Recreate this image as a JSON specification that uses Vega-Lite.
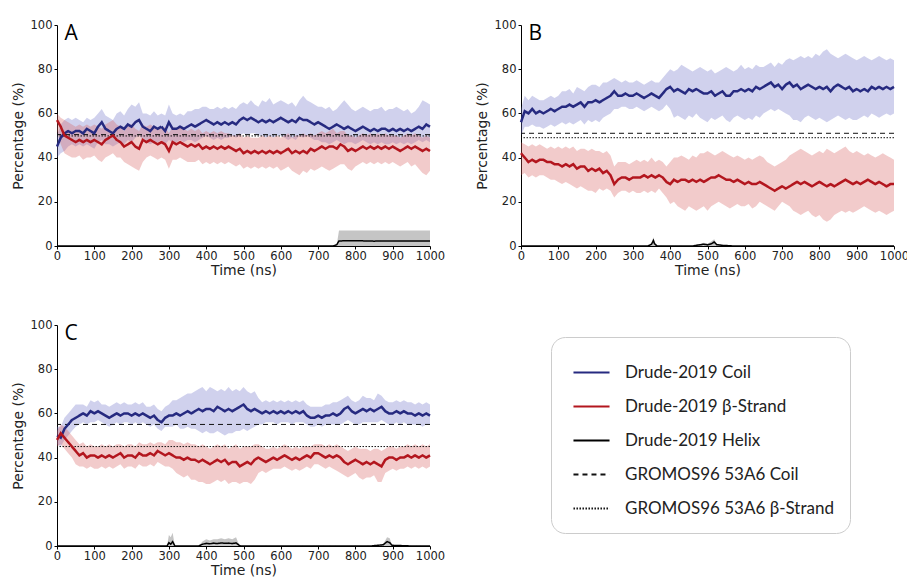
{
"$schema":"https://vega.github.io/schema/vega-lite/v6.json",
"padding":{"left":11,"top":19,"right":0,"bottom":0},
"background":"white",
"datasets":{
"md":[
{"p":"A","t":0,"c":45,"cl":40,"ch":50,"s":57,"sl":52,"sh":60},
{"p":"A","t":10,"c":49,"cl":42,"ch":55,"s":54,"sl":46,"sh":58},
{"p":"A","t":20,"c":51,"cl":43,"ch":57,"s":50,"sl":42,"sh":57},
{"p":"A","t":30,"c":52,"cl":45,"ch":58,"s":49,"sl":41,"sh":56},
{"p":"A","t":40,"c":51,"cl":46,"ch":57,"s":48,"sl":40,"sh":55},
{"p":"A","t":50,"c":52,"cl":45,"ch":58,"s":47,"sl":40,"sh":54},
{"p":"A","t":60,"c":52,"cl":46,"ch":57,"s":48,"sl":41,"sh":55},
{"p":"A","t":70,"c":51,"cl":45,"ch":56,"s":47,"sl":39,"sh":54},
{"p":"A","t":80,"c":53,"cl":46,"ch":58,"s":48,"sl":40,"sh":55},
{"p":"A","t":90,"c":52,"cl":45,"ch":57,"s":47,"sl":40,"sh":54},
{"p":"A","t":100,"c":51,"cl":44,"ch":58,"s":48,"sl":41,"sh":55},
{"p":"A","t":110,"c":54,"cl":47,"ch":60,"s":47,"sl":39,"sh":54},
{"p":"A","t":120,"c":56,"cl":48,"ch":62,"s":46,"sl":38,"sh":53},
{"p":"A","t":130,"c":53,"cl":46,"ch":59,"s":48,"sl":40,"sh":55},
{"p":"A","t":140,"c":52,"cl":46,"ch":58,"s":49,"sl":41,"sh":56},
{"p":"A","t":150,"c":51,"cl":45,"ch":57,"s":50,"sl":42,"sh":57},
{"p":"A","t":160,"c":53,"cl":46,"ch":60,"s":48,"sl":40,"sh":55},
{"p":"A","t":170,"c":54,"cl":47,"ch":61,"s":47,"sl":40,"sh":54},
{"p":"A","t":180,"c":53,"cl":46,"ch":59,"s":45,"sl":38,"sh":52},
{"p":"A","t":190,"c":55,"cl":48,"ch":62,"s":46,"sl":37,"sh":54},
{"p":"A","t":200,"c":54,"cl":47,"ch":64,"s":47,"sl":36,"sh":55},
{"p":"A","t":210,"c":56,"cl":49,"ch":63,"s":45,"sl":35,"sh":53},
{"p":"A","t":220,"c":57,"cl":50,"ch":65,"s":44,"sl":34,"sh":52},
{"p":"A","t":230,"c":54,"cl":48,"ch":60,"s":48,"sl":38,"sh":55},
{"p":"A","t":240,"c":53,"cl":47,"ch":60,"s":47,"sl":40,"sh":54},
{"p":"A","t":250,"c":52,"cl":46,"ch":59,"s":48,"sl":41,"sh":55},
{"p":"A","t":260,"c":54,"cl":47,"ch":61,"s":47,"sl":40,"sh":54},
{"p":"A","t":270,"c":53,"cl":47,"ch":59,"s":46,"sl":39,"sh":53},
{"p":"A","t":280,"c":54,"cl":48,"ch":60,"s":47,"sl":40,"sh":53},
{"p":"A","t":290,"c":52,"cl":46,"ch":59,"s":46,"sl":39,"sh":54},
{"p":"A","t":300,"c":56,"cl":48,"ch":64,"s":43,"sl":35,"sh":51},
{"p":"A","t":310,"c":53,"cl":47,"ch":60,"s":47,"sl":39,"sh":54},
{"p":"A","t":320,"c":53,"cl":47,"ch":59,"s":46,"sl":39,"sh":53},
{"p":"A","t":330,"c":54,"cl":48,"ch":60,"s":47,"sl":40,"sh":54},
{"p":"A","t":340,"c":53,"cl":47,"ch":59,"s":46,"sl":39,"sh":53},
{"p":"A","t":350,"c":54,"cl":48,"ch":61,"s":45,"sl":38,"sh":52},
{"p":"A","t":360,"c":55,"cl":48,"ch":61,"s":46,"sl":38,"sh":53},
{"p":"A","t":370,"c":54,"cl":47,"ch":62,"s":45,"sl":38,"sh":52},
{"p":"A","t":380,"c":55,"cl":48,"ch":62,"s":46,"sl":39,"sh":53},
{"p":"A","t":390,"c":56,"cl":49,"ch":63,"s":44,"sl":37,"sh":51},
{"p":"A","t":400,"c":57,"cl":50,"ch":63,"s":45,"sl":38,"sh":52},
{"p":"A","t":410,"c":56,"cl":49,"ch":62,"s":44,"sl":37,"sh":51},
{"p":"A","t":420,"c":55,"cl":48,"ch":62,"s":45,"sl":38,"sh":52},
{"p":"A","t":430,"c":56,"cl":49,"ch":63,"s":44,"sl":37,"sh":51},
{"p":"A","t":440,"c":55,"cl":48,"ch":62,"s":45,"sl":38,"sh":52},
{"p":"A","t":450,"c":56,"cl":49,"ch":63,"s":44,"sl":37,"sh":51},
{"p":"A","t":460,"c":55,"cl":49,"ch":62,"s":45,"sl":38,"sh":51},
{"p":"A","t":470,"c":56,"cl":50,"ch":63,"s":44,"sl":37,"sh":50},
{"p":"A","t":480,"c":55,"cl":49,"ch":62,"s":43,"sl":36,"sh":50},
{"p":"A","t":490,"c":57,"cl":50,"ch":64,"s":44,"sl":37,"sh":51},
{"p":"A","t":500,"c":58,"cl":51,"ch":65,"s":42,"sl":35,"sh":49},
{"p":"A","t":510,"c":57,"cl":50,"ch":64,"s":43,"sl":36,"sh":50},
{"p":"A","t":520,"c":58,"cl":51,"ch":66,"s":42,"sl":35,"sh":49},
{"p":"A","t":530,"c":57,"cl":51,"ch":64,"s":43,"sl":36,"sh":49},
{"p":"A","t":540,"c":56,"cl":50,"ch":63,"s":42,"sl":35,"sh":49},
{"p":"A","t":550,"c":57,"cl":50,"ch":66,"s":43,"sl":36,"sh":50},
{"p":"A","t":560,"c":56,"cl":49,"ch":65,"s":42,"sl":35,"sh":49},
{"p":"A","t":570,"c":57,"cl":50,"ch":67,"s":43,"sl":36,"sh":50},
{"p":"A","t":580,"c":56,"cl":49,"ch":64,"s":42,"sl":35,"sh":49},
{"p":"A","t":590,"c":57,"cl":50,"ch":65,"s":43,"sl":36,"sh":50},
{"p":"A","t":600,"c":58,"cl":50,"ch":66,"s":42,"sl":34,"sh":49},
{"p":"A","t":610,"c":57,"cl":49,"ch":65,"s":43,"sl":35,"sh":50},
{"p":"A","t":620,"c":56,"cl":48,"ch":64,"s":44,"sl":36,"sh":51},
{"p":"A","t":630,"c":57,"cl":49,"ch":65,"s":42,"sl":34,"sh":49},
{"p":"A","t":640,"c":56,"cl":48,"ch":63,"s":43,"sl":33,"sh":50},
{"p":"A","t":650,"c":58,"cl":50,"ch":66,"s":42,"sl":32,"sh":50},
{"p":"A","t":660,"c":57,"cl":49,"ch":68,"s":43,"sl":34,"sh":51},
{"p":"A","t":670,"c":57,"cl":50,"ch":66,"s":42,"sl":33,"sh":50},
{"p":"A","t":680,"c":56,"cl":49,"ch":65,"s":44,"sl":35,"sh":51},
{"p":"A","t":690,"c":55,"cl":48,"ch":64,"s":43,"sl":34,"sh":50},
{"p":"A","t":700,"c":56,"cl":48,"ch":63,"s":44,"sl":35,"sh":51},
{"p":"A","t":710,"c":55,"cl":47,"ch":63,"s":45,"sl":36,"sh":52},
{"p":"A","t":720,"c":54,"cl":47,"ch":62,"s":44,"sl":35,"sh":51},
{"p":"A","t":730,"c":53,"cl":46,"ch":63,"s":45,"sl":34,"sh":52},
{"p":"A","t":740,"c":54,"cl":47,"ch":61,"s":45,"sl":35,"sh":53},
{"p":"A","t":750,"c":55,"cl":48,"ch":62,"s":44,"sl":36,"sh":51},
{"p":"A","t":760,"c":54,"cl":47,"ch":64,"s":46,"sl":37,"sh":52},
{"p":"A","t":770,"c":53,"cl":46,"ch":66,"s":45,"sl":37,"sh":52},
{"p":"A","t":780,"c":54,"cl":47,"ch":64,"s":43,"sl":35,"sh":50},
{"p":"A","t":790,"c":53,"cl":47,"ch":62,"s":44,"sl":34,"sh":50},
{"p":"A","t":800,"c":52,"cl":46,"ch":61,"s":43,"sl":36,"sh":49},
{"p":"A","t":810,"c":53,"cl":47,"ch":62,"s":44,"sl":37,"sh":50},
{"p":"A","t":820,"c":54,"cl":48,"ch":63,"s":45,"sl":38,"sh":51},
{"p":"A","t":830,"c":53,"cl":47,"ch":62,"s":44,"sl":37,"sh":50},
{"p":"A","t":840,"c":52,"cl":46,"ch":61,"s":45,"sl":38,"sh":51},
{"p":"A","t":850,"c":53,"cl":47,"ch":62,"s":44,"sl":37,"sh":50},
{"p":"A","t":860,"c":52,"cl":46,"ch":62,"s":45,"sl":38,"sh":51},
{"p":"A","t":870,"c":53,"cl":47,"ch":63,"s":44,"sl":37,"sh":50},
{"p":"A","t":880,"c":53,"cl":46,"ch":61,"s":45,"sl":38,"sh":51},
{"p":"A","t":890,"c":52,"cl":46,"ch":62,"s":44,"sl":37,"sh":50},
{"p":"A","t":900,"c":53,"cl":47,"ch":62,"s":45,"sl":38,"sh":50},
{"p":"A","t":910,"c":52,"cl":46,"ch":63,"s":44,"sl":37,"sh":50},
{"p":"A","t":920,"c":53,"cl":47,"ch":62,"s":43,"sl":36,"sh":49},
{"p":"A","t":930,"c":52,"cl":46,"ch":61,"s":44,"sl":37,"sh":50},
{"p":"A","t":940,"c":53,"cl":47,"ch":62,"s":45,"sl":38,"sh":51},
{"p":"A","t":950,"c":52,"cl":46,"ch":60,"s":44,"sl":36,"sh":50},
{"p":"A","t":960,"c":53,"cl":47,"ch":61,"s":45,"sl":37,"sh":51},
{"p":"A","t":970,"c":54,"cl":48,"ch":63,"s":44,"sl":35,"sh":50},
{"p":"A","t":980,"c":53,"cl":47,"ch":66,"s":43,"sl":33,"sh":49},
{"p":"A","t":990,"c":55,"cl":48,"ch":65,"s":44,"sl":32,"sh":50},
{"p":"A","t":1000,"c":54,"cl":47,"ch":64,"s":43,"sl":34,"sh":49},
{"p":"B","t":0,"c":56,"cl":50,"ch":62,"s":42,"sl":32,"sh":47},
{"p":"B","t":10,"c":61,"cl":54,"ch":68,"s":40,"sl":33,"sh":46},
{"p":"B","t":20,"c":60,"cl":54,"ch":66,"s":38,"sl":31,"sh":45},
{"p":"B","t":30,"c":62,"cl":55,"ch":68,"s":39,"sl":32,"sh":46},
{"p":"B","t":40,"c":60,"cl":54,"ch":67,"s":38,"sl":31,"sh":45},
{"p":"B","t":50,"c":61,"cl":54,"ch":66,"s":39,"sl":32,"sh":46},
{"p":"B","t":60,"c":60,"cl":53,"ch":66,"s":39,"sl":32,"sh":45},
{"p":"B","t":70,"c":61,"cl":54,"ch":67,"s":38,"sl":31,"sh":44},
{"p":"B","t":80,"c":62,"cl":55,"ch":68,"s":38,"sl":30,"sh":45},
{"p":"B","t":90,"c":61,"cl":54,"ch":67,"s":37,"sl":30,"sh":44},
{"p":"B","t":100,"c":62,"cl":55,"ch":68,"s":37,"sl":29,"sh":45},
{"p":"B","t":110,"c":63,"cl":56,"ch":70,"s":36,"sl":28,"sh":44},
{"p":"B","t":120,"c":63,"cl":55,"ch":70,"s":37,"sl":29,"sh":45},
{"p":"B","t":130,"c":64,"cl":56,"ch":71,"s":36,"sl":28,"sh":44},
{"p":"B","t":140,"c":63,"cl":55,"ch":69,"s":37,"sl":27,"sh":45},
{"p":"B","t":150,"c":64,"cl":56,"ch":72,"s":35,"sl":26,"sh":43},
{"p":"B","t":160,"c":65,"cl":57,"ch":71,"s":36,"sl":27,"sh":44},
{"p":"B","t":170,"c":63,"cl":55,"ch":70,"s":36,"sl":26,"sh":44},
{"p":"B","t":180,"c":65,"cl":57,"ch":72,"s":34,"sl":25,"sh":43},
{"p":"B","t":190,"c":65,"cl":56,"ch":73,"s":35,"sl":25,"sh":44},
{"p":"B","t":200,"c":66,"cl":57,"ch":73,"s":34,"sl":24,"sh":43},
{"p":"B","t":210,"c":65,"cl":56,"ch":72,"s":35,"sl":26,"sh":43},
{"p":"B","t":220,"c":66,"cl":58,"ch":74,"s":33,"sl":25,"sh":42},
{"p":"B","t":230,"c":67,"cl":59,"ch":74,"s":34,"sl":26,"sh":43},
{"p":"B","t":240,"c":68,"cl":60,"ch":75,"s":32,"sl":25,"sh":41},
{"p":"B","t":250,"c":70,"cl":62,"ch":76,"s":28,"sl":22,"sh":36},
{"p":"B","t":260,"c":68,"cl":62,"ch":75,"s":30,"sl":24,"sh":38},
{"p":"B","t":270,"c":68,"cl":63,"ch":74,"s":31,"sl":25,"sh":38},
{"p":"B","t":280,"c":69,"cl":63,"ch":75,"s":31,"sl":25,"sh":38},
{"p":"B","t":290,"c":68,"cl":62,"ch":74,"s":30,"sl":24,"sh":37},
{"p":"B","t":300,"c":68,"cl":62,"ch":74,"s":31,"sl":25,"sh":38},
{"p":"B","t":310,"c":69,"cl":63,"ch":75,"s":31,"sl":24,"sh":39},
{"p":"B","t":320,"c":68,"cl":62,"ch":74,"s":31,"sl":24,"sh":38},
{"p":"B","t":330,"c":67,"cl":61,"ch":73,"s":32,"sl":25,"sh":39},
{"p":"B","t":340,"c":68,"cl":62,"ch":74,"s":31,"sl":24,"sh":38},
{"p":"B","t":350,"c":69,"cl":63,"ch":75,"s":32,"sl":25,"sh":40},
{"p":"B","t":360,"c":68,"cl":62,"ch":74,"s":31,"sl":24,"sh":38},
{"p":"B","t":370,"c":67,"cl":61,"ch":74,"s":32,"sl":26,"sh":39},
{"p":"B","t":380,"c":69,"cl":62,"ch":76,"s":31,"sl":24,"sh":38},
{"p":"B","t":390,"c":71,"cl":64,"ch":78,"s":29,"sl":22,"sh":36},
{"p":"B","t":400,"c":72,"cl":62,"ch":80,"s":28,"sl":19,"sh":38},
{"p":"B","t":410,"c":70,"cl":58,"ch":79,"s":30,"sl":20,"sh":40},
{"p":"B","t":420,"c":71,"cl":59,"ch":80,"s":29,"sl":18,"sh":40},
{"p":"B","t":430,"c":70,"cl":58,"ch":82,"s":30,"sl":17,"sh":41},
{"p":"B","t":440,"c":69,"cl":57,"ch":81,"s":30,"sl":16,"sh":40},
{"p":"B","t":450,"c":71,"cl":59,"ch":80,"s":29,"sl":18,"sh":39},
{"p":"B","t":460,"c":70,"cl":58,"ch":79,"s":30,"sl":17,"sh":41},
{"p":"B","t":470,"c":71,"cl":60,"ch":80,"s":29,"sl":16,"sh":40},
{"p":"B","t":480,"c":70,"cl":58,"ch":81,"s":30,"sl":17,"sh":42},
{"p":"B","t":490,"c":69,"cl":57,"ch":80,"s":29,"sl":18,"sh":42},
{"p":"B","t":500,"c":69,"cl":56,"ch":79,"s":30,"sl":16,"sh":43},
{"p":"B","t":510,"c":70,"cl":58,"ch":80,"s":31,"sl":18,"sh":42},
{"p":"B","t":520,"c":68,"cl":57,"ch":78,"s":31,"sl":19,"sh":41},
{"p":"B","t":530,"c":69,"cl":58,"ch":79,"s":32,"sl":20,"sh":42},
{"p":"B","t":540,"c":70,"cl":59,"ch":80,"s":31,"sl":19,"sh":43},
{"p":"B","t":550,"c":68,"cl":57,"ch":81,"s":30,"sl":18,"sh":42},
{"p":"B","t":560,"c":68,"cl":56,"ch":80,"s":30,"sl":17,"sh":41},
{"p":"B","t":570,"c":70,"cl":58,"ch":79,"s":29,"sl":18,"sh":40},
{"p":"B","t":580,"c":70,"cl":59,"ch":80,"s":30,"sl":19,"sh":41},
{"p":"B","t":590,"c":71,"cl":58,"ch":82,"s":29,"sl":18,"sh":40},
{"p":"B","t":600,"c":70,"cl":57,"ch":80,"s":28,"sl":18,"sh":39},
{"p":"B","t":610,"c":71,"cl":58,"ch":81,"s":29,"sl":19,"sh":40},
{"p":"B","t":620,"c":70,"cl":57,"ch":80,"s":28,"sl":17,"sh":39},
{"p":"B","t":630,"c":72,"cl":59,"ch":82,"s":28,"sl":18,"sh":40},
{"p":"B","t":640,"c":71,"cl":58,"ch":81,"s":29,"sl":20,"sh":41},
{"p":"B","t":650,"c":72,"cl":60,"ch":81,"s":28,"sl":19,"sh":40},
{"p":"B","t":660,"c":73,"cl":61,"ch":82,"s":27,"sl":18,"sh":38},
{"p":"B","t":670,"c":74,"cl":62,"ch":83,"s":26,"sl":17,"sh":37},
{"p":"B","t":680,"c":72,"cl":61,"ch":81,"s":25,"sl":16,"sh":36},
{"p":"B","t":690,"c":73,"cl":62,"ch":83,"s":26,"sl":18,"sh":37},
{"p":"B","t":700,"c":71,"cl":61,"ch":82,"s":27,"sl":20,"sh":38},
{"p":"B","t":710,"c":73,"cl":60,"ch":84,"s":26,"sl":19,"sh":39},
{"p":"B","t":720,"c":74,"cl":59,"ch":85,"s":27,"sl":18,"sh":41},
{"p":"B","t":730,"c":72,"cl":57,"ch":84,"s":28,"sl":16,"sh":42},
{"p":"B","t":740,"c":73,"cl":57,"ch":85,"s":29,"sl":15,"sh":43},
{"p":"B","t":750,"c":71,"cl":56,"ch":86,"s":28,"sl":14,"sh":44},
{"p":"B","t":760,"c":72,"cl":58,"ch":85,"s":29,"sl":15,"sh":43},
{"p":"B","t":770,"c":73,"cl":59,"ch":86,"s":28,"sl":16,"sh":42},
{"p":"B","t":780,"c":72,"cl":58,"ch":85,"s":27,"sl":14,"sh":41},
{"p":"B","t":790,"c":71,"cl":57,"ch":87,"s":28,"sl":13,"sh":42},
{"p":"B","t":800,"c":72,"cl":58,"ch":86,"s":29,"sl":14,"sh":43},
{"p":"B","t":810,"c":71,"cl":57,"ch":88,"s":28,"sl":12,"sh":42},
{"p":"B","t":820,"c":72,"cl":56,"ch":89,"s":27,"sl":11,"sh":44},
{"p":"B","t":830,"c":70,"cl":57,"ch":87,"s":28,"sl":12,"sh":43},
{"p":"B","t":840,"c":72,"cl":58,"ch":86,"s":27,"sl":14,"sh":42},
{"p":"B","t":850,"c":73,"cl":59,"ch":85,"s":28,"sl":15,"sh":43},
{"p":"B","t":860,"c":72,"cl":58,"ch":86,"s":29,"sl":16,"sh":44},
{"p":"B","t":870,"c":71,"cl":57,"ch":87,"s":30,"sl":15,"sh":45},
{"p":"B","t":880,"c":72,"cl":58,"ch":86,"s":29,"sl":16,"sh":43},
{"p":"B","t":890,"c":70,"cl":57,"ch":85,"s":28,"sl":15,"sh":42},
{"p":"B","t":900,"c":71,"cl":57,"ch":84,"s":29,"sl":16,"sh":43},
{"p":"B","t":910,"c":70,"cl":58,"ch":85,"s":28,"sl":17,"sh":42},
{"p":"B","t":920,"c":71,"cl":59,"ch":86,"s":29,"sl":18,"sh":41},
{"p":"B","t":930,"c":70,"cl":58,"ch":85,"s":30,"sl":17,"sh":42},
{"p":"B","t":940,"c":72,"cl":60,"ch":84,"s":29,"sl":16,"sh":41},
{"p":"B","t":950,"c":71,"cl":59,"ch":85,"s":28,"sl":15,"sh":40},
{"p":"B","t":960,"c":72,"cl":58,"ch":86,"s":29,"sl":16,"sh":41},
{"p":"B","t":970,"c":71,"cl":59,"ch":85,"s":28,"sl":15,"sh":42},
{"p":"B","t":980,"c":72,"cl":60,"ch":84,"s":27,"sl":14,"sh":41},
{"p":"B","t":990,"c":71,"cl":59,"ch":85,"s":28,"sl":15,"sh":40},
{"p":"B","t":1000,"c":72,"cl":60,"ch":84,"s":28,"sl":16,"sh":39},
{"p":"C","t":0,"c":50,"cl":46,"ch":54,"s":48,"sl":45,"sh":52},
{"p":"C","t":10,"c":49,"cl":45,"ch":54,"s":51,"sl":46,"sh":55},
{"p":"C","t":20,"c":53,"cl":48,"ch":58,"s":49,"sl":44,"sh":54},
{"p":"C","t":30,"c":55,"cl":50,"ch":60,"s":47,"sl":42,"sh":52},
{"p":"C","t":40,"c":57,"cl":52,"ch":62,"s":45,"sl":40,"sh":50},
{"p":"C","t":50,"c":58,"cl":54,"ch":64,"s":43,"sl":37,"sh":48},
{"p":"C","t":60,"c":59,"cl":55,"ch":64,"s":41,"sl":36,"sh":46},
{"p":"C","t":70,"c":60,"cl":56,"ch":64,"s":42,"sl":36,"sh":47},
{"p":"C","t":80,"c":59,"cl":55,"ch":63,"s":40,"sl":35,"sh":45},
{"p":"C","t":90,"c":61,"cl":56,"ch":66,"s":41,"sl":36,"sh":46},
{"p":"C","t":100,"c":60,"cl":56,"ch":65,"s":41,"sl":35,"sh":45},
{"p":"C","t":110,"c":61,"cl":57,"ch":66,"s":40,"sl":35,"sh":45},
{"p":"C","t":120,"c":60,"cl":56,"ch":64,"s":41,"sl":36,"sh":46},
{"p":"C","t":130,"c":59,"cl":55,"ch":64,"s":40,"sl":35,"sh":45},
{"p":"C","t":140,"c":58,"cl":54,"ch":63,"s":41,"sl":36,"sh":46},
{"p":"C","t":150,"c":59,"cl":55,"ch":64,"s":40,"sl":35,"sh":45},
{"p":"C","t":160,"c":60,"cl":56,"ch":65,"s":41,"sl":36,"sh":46},
{"p":"C","t":170,"c":59,"cl":55,"ch":64,"s":42,"sl":37,"sh":46},
{"p":"C","t":180,"c":60,"cl":56,"ch":65,"s":40,"sl":35,"sh":45},
{"p":"C","t":190,"c":60,"cl":56,"ch":64,"s":41,"sl":36,"sh":46},
{"p":"C","t":200,"c":59,"cl":55,"ch":64,"s":41,"sl":36,"sh":46},
{"p":"C","t":210,"c":60,"cl":56,"ch":65,"s":40,"sl":35,"sh":45},
{"p":"C","t":220,"c":59,"cl":55,"ch":64,"s":42,"sl":37,"sh":47},
{"p":"C","t":230,"c":60,"cl":56,"ch":65,"s":41,"sl":36,"sh":46},
{"p":"C","t":240,"c":59,"cl":55,"ch":63,"s":41,"sl":36,"sh":46},
{"p":"C","t":250,"c":58,"cl":54,"ch":63,"s":42,"sl":37,"sh":47},
{"p":"C","t":260,"c":59,"cl":55,"ch":64,"s":41,"sl":36,"sh":46},
{"p":"C","t":270,"c":57,"cl":53,"ch":62,"s":43,"sl":38,"sh":47},
{"p":"C","t":280,"c":56,"cl":52,"ch":61,"s":42,"sl":37,"sh":47},
{"p":"C","t":290,"c":58,"cl":54,"ch":63,"s":41,"sl":36,"sh":46},
{"p":"C","t":300,"c":59,"cl":54,"ch":64,"s":42,"sl":36,"sh":48},
{"p":"C","t":310,"c":59,"cl":54,"ch":66,"s":41,"sl":35,"sh":48},
{"p":"C","t":320,"c":60,"cl":55,"ch":66,"s":40,"sl":33,"sh":47},
{"p":"C","t":330,"c":59,"cl":53,"ch":67,"s":40,"sl":32,"sh":47},
{"p":"C","t":340,"c":60,"cl":53,"ch":68,"s":39,"sl":31,"sh":46},
{"p":"C","t":350,"c":61,"cl":54,"ch":69,"s":40,"sl":32,"sh":47},
{"p":"C","t":360,"c":60,"cl":53,"ch":69,"s":39,"sl":30,"sh":46},
{"p":"C","t":370,"c":61,"cl":53,"ch":70,"s":39,"sl":30,"sh":46},
{"p":"C","t":380,"c":62,"cl":52,"ch":71,"s":38,"sl":29,"sh":45},
{"p":"C","t":390,"c":61,"cl":51,"ch":72,"s":39,"sl":29,"sh":46},
{"p":"C","t":400,"c":62,"cl":52,"ch":70,"s":38,"sl":28,"sh":45},
{"p":"C","t":410,"c":62,"cl":51,"ch":72,"s":37,"sl":28,"sh":44},
{"p":"C","t":420,"c":61,"cl":51,"ch":71,"s":38,"sl":29,"sh":45},
{"p":"C","t":430,"c":63,"cl":52,"ch":70,"s":39,"sl":30,"sh":46},
{"p":"C","t":440,"c":62,"cl":51,"ch":71,"s":38,"sl":29,"sh":45},
{"p":"C","t":450,"c":61,"cl":50,"ch":70,"s":39,"sl":30,"sh":46},
{"p":"C","t":460,"c":62,"cl":51,"ch":72,"s":37,"sl":28,"sh":44},
{"p":"C","t":470,"c":61,"cl":51,"ch":70,"s":38,"sl":29,"sh":45},
{"p":"C","t":480,"c":62,"cl":52,"ch":71,"s":38,"sl":29,"sh":46},
{"p":"C","t":490,"c":63,"cl":52,"ch":70,"s":36,"sl":28,"sh":44},
{"p":"C","t":500,"c":64,"cl":53,"ch":72,"s":37,"sl":29,"sh":45},
{"p":"C","t":510,"c":62,"cl":52,"ch":70,"s":38,"sl":29,"sh":45},
{"p":"C","t":520,"c":61,"cl":53,"ch":69,"s":37,"sl":28,"sh":45},
{"p":"C","t":530,"c":62,"cl":54,"ch":70,"s":39,"sl":30,"sh":46},
{"p":"C","t":540,"c":61,"cl":55,"ch":67,"s":40,"sl":33,"sh":46},
{"p":"C","t":550,"c":60,"cl":55,"ch":65,"s":39,"sl":34,"sh":45},
{"p":"C","t":560,"c":61,"cl":56,"ch":66,"s":38,"sl":33,"sh":44},
{"p":"C","t":570,"c":60,"cl":56,"ch":65,"s":39,"sl":34,"sh":44},
{"p":"C","t":580,"c":61,"cl":56,"ch":66,"s":40,"sl":35,"sh":45},
{"p":"C","t":590,"c":60,"cl":55,"ch":65,"s":39,"sl":35,"sh":44},
{"p":"C","t":600,"c":61,"cl":56,"ch":66,"s":40,"sl":35,"sh":45},
{"p":"C","t":610,"c":60,"cl":56,"ch":65,"s":41,"sl":36,"sh":46},
{"p":"C","t":620,"c":61,"cl":56,"ch":66,"s":40,"sl":35,"sh":45},
{"p":"C","t":630,"c":60,"cl":55,"ch":65,"s":39,"sl":34,"sh":44},
{"p":"C","t":640,"c":61,"cl":56,"ch":66,"s":40,"sl":35,"sh":45},
{"p":"C","t":650,"c":60,"cl":56,"ch":65,"s":39,"sl":34,"sh":44},
{"p":"C","t":660,"c":61,"cl":56,"ch":66,"s":40,"sl":35,"sh":45},
{"p":"C","t":670,"c":59,"cl":55,"ch":64,"s":41,"sl":36,"sh":45},
{"p":"C","t":680,"c":58,"cl":54,"ch":63,"s":40,"sl":35,"sh":45},
{"p":"C","t":690,"c":58,"cl":54,"ch":63,"s":42,"sl":37,"sh":46},
{"p":"C","t":700,"c":59,"cl":55,"ch":63,"s":42,"sl":37,"sh":46},
{"p":"C","t":710,"c":58,"cl":54,"ch":63,"s":41,"sl":36,"sh":46},
{"p":"C","t":720,"c":59,"cl":55,"ch":64,"s":40,"sl":35,"sh":45},
{"p":"C","t":730,"c":59,"cl":55,"ch":64,"s":41,"sl":36,"sh":46},
{"p":"C","t":740,"c":60,"cl":55,"ch":65,"s":40,"sl":35,"sh":45},
{"p":"C","t":750,"c":59,"cl":55,"ch":65,"s":41,"sl":34,"sh":46},
{"p":"C","t":760,"c":60,"cl":55,"ch":66,"s":40,"sl":33,"sh":45},
{"p":"C","t":770,"c":62,"cl":56,"ch":67,"s":38,"sl":32,"sh":44},
{"p":"C","t":780,"c":63,"cl":57,"ch":68,"s":37,"sl":31,"sh":43},
{"p":"C","t":790,"c":61,"cl":56,"ch":66,"s":38,"sl":32,"sh":44},
{"p":"C","t":800,"c":60,"cl":55,"ch":65,"s":39,"sl":33,"sh":45},
{"p":"C","t":810,"c":61,"cl":55,"ch":66,"s":38,"sl":31,"sh":44},
{"p":"C","t":820,"c":62,"cl":56,"ch":68,"s":37,"sl":30,"sh":44},
{"p":"C","t":830,"c":61,"cl":56,"ch":67,"s":38,"sl":31,"sh":44},
{"p":"C","t":840,"c":62,"cl":56,"ch":67,"s":37,"sl":31,"sh":43},
{"p":"C","t":850,"c":61,"cl":56,"ch":66,"s":38,"sl":32,"sh":44},
{"p":"C","t":860,"c":62,"cl":56,"ch":69,"s":37,"sl":29,"sh":44},
{"p":"C","t":870,"c":63,"cl":57,"ch":68,"s":36,"sl":29,"sh":43},
{"p":"C","t":880,"c":61,"cl":56,"ch":66,"s":39,"sl":33,"sh":44},
{"p":"C","t":890,"c":60,"cl":55,"ch":65,"s":40,"sl":34,"sh":45},
{"p":"C","t":900,"c":60,"cl":55,"ch":65,"s":40,"sl":35,"sh":45},
{"p":"C","t":910,"c":61,"cl":56,"ch":66,"s":39,"sl":34,"sh":44},
{"p":"C","t":920,"c":60,"cl":55,"ch":65,"s":40,"sl":35,"sh":45},
{"p":"C","t":930,"c":61,"cl":56,"ch":66,"s":40,"sl":35,"sh":45},
{"p":"C","t":940,"c":60,"cl":55,"ch":65,"s":41,"sl":36,"sh":46},
{"p":"C","t":950,"c":60,"cl":55,"ch":65,"s":40,"sl":35,"sh":45},
{"p":"C","t":960,"c":59,"cl":55,"ch":64,"s":41,"sl":36,"sh":46},
{"p":"C","t":970,"c":60,"cl":55,"ch":65,"s":40,"sl":35,"sh":45},
{"p":"C","t":980,"c":59,"cl":54,"ch":64,"s":41,"sl":36,"sh":46},
{"p":"C","t":990,"c":60,"cl":55,"ch":65,"s":40,"sl":35,"sh":45},
{"p":"C","t":1000,"c":59,"cl":55,"ch":64,"s":41,"sl":36,"sh":46}
],
"hx":[
{"p":"A","t":0,"h":0,"hh":0},{"p":"A","t":740,"h":0,"hh":0},{"p":"A","t":750,"h":0.6,"hh":0.6},{"p":"A","t":756,"h":2.3,"hh":7},{"p":"A","t":800,"h":2.4,"hh":7},{"p":"A","t":850,"h":2.2,"hh":7},{"p":"A","t":900,"h":2.3,"hh":7},{"p":"A","t":950,"h":2.3,"hh":7},{"p":"A","t":1000,"h":2.3,"hh":7},
{"p":"B","t":0,"h":0,"hh":0},{"p":"B","t":340,"h":0,"hh":0},{"p":"B","t":350,"h":0.8,"hh":1.5},{"p":"B","t":355,"h":2.5,"hh":4},{"p":"B","t":358,"h":1,"hh":2},{"p":"B","t":365,"h":0,"hh":0},{"p":"B","t":460,"h":0,"hh":0},{"p":"B","t":470,"h":0.3,"hh":0.5},{"p":"B","t":490,"h":0.8,"hh":1.5},{"p":"B","t":500,"h":0.5,"hh":1},{"p":"B","t":510,"h":1,"hh":2},{"p":"B","t":518,"h":1.8,"hh":3},{"p":"B","t":525,"h":0.6,"hh":1},{"p":"B","t":540,"h":0.3,"hh":0.5},{"p":"B","t":570,"h":0,"hh":0},{"p":"B","t":1000,"h":0,"hh":0},
{"p":"C","t":0,"h":0,"hh":0},{"p":"C","t":295,"h":0,"hh":0},{"p":"C","t":300,"h":1.5,"hh":5},{"p":"C","t":305,"h":0.8,"hh":4},{"p":"C","t":310,"h":2,"hh":6},{"p":"C","t":316,"h":0,"hh":0},{"p":"C","t":380,"h":0,"hh":0},{"p":"C","t":390,"h":0.8,"hh":2},{"p":"C","t":400,"h":1.2,"hh":3},{"p":"C","t":410,"h":1,"hh":2.5},{"p":"C","t":420,"h":1.3,"hh":3},{"p":"C","t":430,"h":1.1,"hh":3},{"p":"C","t":440,"h":1.4,"hh":3.5},{"p":"C","t":450,"h":1.2,"hh":3},{"p":"C","t":460,"h":1.3,"hh":3.5},{"p":"C","t":470,"h":1.1,"hh":3},{"p":"C","t":480,"h":1.4,"hh":4},{"p":"C","t":487,"h":0.5,"hh":1},{"p":"C","t":492,"h":0,"hh":0},{"p":"C","t":840,"h":0,"hh":0},{"p":"C","t":860,"h":0.3,"hh":0.5},{"p":"C","t":875,"h":0.6,"hh":1},{"p":"C","t":885,"h":2,"hh":4},{"p":"C","t":892,"h":1.5,"hh":3.5},{"p":"C","t":898,"h":0.3,"hh":0.5},{"p":"C","t":920,"h":0.2,"hh":0.3},{"p":"C","t":950,"h":0,"hh":0},{"p":"C","t":1000,"h":0,"hh":0}
]
},
"columns":2,
"spacing":{"column":30,"row":41},
"concat":[
{"width":373,"height":221,
"layer":[
{"data":{"name":"md"},"transform":[{"filter":"datum.p=='A'"}],"mark":{"type":"area","color":"#6f74c8","opacity":0.33},"encoding":{"x":{"field":"t","type":"quantitative","title":"Time (ns)","scale":{"domain":[0,1000],"nice":false},"axis":{"values":[0,100,200,300,400,500,600,700,800,900,1000],"labelFlush":false,"labelOverlap":false,"format":"d"}},"y":{"field":"cl","type":"quantitative","title":"Percentage (%)","scale":{"domain":[0,100],"nice":false},"axis":{"values":[0,20,40,60,80,100]}},"y2":{"field":"ch"}}},
{"data":{"name":"md"},"transform":[{"filter":"datum.p=='A'"}],"mark":{"type":"area","color":"#d65c5c","opacity":0.32},"encoding":{"x":{"field":"t","type":"quantitative","title":"Time (ns)","axis":{"values":[0,100,200,300,400,500,600,700,800,900,1000],"labelFlush":false,"labelOverlap":false,"format":"d"}},"y":{"field":"sl","type":"quantitative","title":"Percentage (%)"},"y2":{"field":"sh"}}},
{"data":{"name":"hx"},"transform":[{"filter":"datum.p=='A'"}],"mark":{"type":"area","color":"#8c8c8c","opacity":0.5},"encoding":{"x":{"field":"t","type":"quantitative","title":"Time (ns)","axis":{"values":[0,100,200,300,400,500,600,700,800,900,1000],"labelFlush":false,"labelOverlap":false,"format":"d"}},"y":{"field":"hh","type":"quantitative","title":"Percentage (%)"},"y2":{"datum":0}}},
{"data":{"values":[{"v":50.4}]},"mark":{"type":"rule","strokeWidth":1},"encoding":{"y":{"field":"v","type":"quantitative","title":"Percentage (%)"},"color":{"datum":"GROMOS96 53A6 Coil","type":"nominal"},"strokeDash":{"datum":"GROMOS96 53A6 Coil","type":"nominal"}}},
{"data":{"values":[{"v":49.8}]},"mark":{"type":"rule","strokeWidth":1},"encoding":{"y":{"field":"v","type":"quantitative","title":"Percentage (%)"},"color":{"datum":"GROMOS96 53A6 β-Strand","type":"nominal"},"strokeDash":{"datum":"GROMOS96 53A6 β-Strand","type":"nominal"}}},
{"data":{"name":"md"},"transform":[{"filter":"datum.p=='A'"}],"mark":{"type":"line","strokeWidth":2.5},"encoding":{"x":{"field":"t","type":"quantitative","title":"Time (ns)","axis":{"values":[0,100,200,300,400,500,600,700,800,900,1000],"labelFlush":false,"labelOverlap":false,"format":"d"}},"y":{"field":"c","type":"quantitative","title":"Percentage (%)"},
"color":{"datum":"Drude-2019 Coil","type":"nominal","scale":{"domain":["Drude-2019 Coil","Drude-2019 β-Strand","Drude-2019 Helix","GROMOS96 53A6 Coil","GROMOS96 53A6 β-Strand"],"range":["#262a80","#b3161e","#000000","#111111","#111111"]},"legend":{"orient":"none","legendX":494,"legendY":312,"title":null}},
"strokeDash":{"datum":"Drude-2019 Coil","type":"nominal","scale":{"domain":["Drude-2019 Coil","Drude-2019 β-Strand","Drude-2019 Helix","GROMOS96 53A6 Coil","GROMOS96 53A6 β-Strand"],"range":[[1,0],[1,0],[1,0],[5,4],[1.5,1.5]]},"legend":{"orient":"none","legendX":494,"legendY":312,"title":null}}}},
{"data":{"name":"md"},"transform":[{"filter":"datum.p=='A'"}],"mark":{"type":"line","strokeWidth":2.5},"encoding":{"x":{"field":"t","type":"quantitative","title":"Time (ns)","axis":{"values":[0,100,200,300,400,500,600,700,800,900,1000],"labelFlush":false,"labelOverlap":false,"format":"d"}},"y":{"field":"s","type":"quantitative","title":"Percentage (%)"},"color":{"datum":"Drude-2019 β-Strand","type":"nominal"},"strokeDash":{"datum":"Drude-2019 β-Strand","type":"nominal"}}},
{"data":{"name":"hx"},"transform":[{"filter":"datum.p=='A'"}],"mark":{"type":"line","strokeWidth":1.5},"encoding":{"x":{"field":"t","type":"quantitative","title":"Time (ns)","axis":{"values":[0,100,200,300,400,500,600,700,800,900,1000],"labelFlush":false,"labelOverlap":false,"format":"d"}},"y":{"field":"h","type":"quantitative","title":"Percentage (%)"},"color":{"datum":"Drude-2019 Helix","type":"nominal"},"strokeDash":{"datum":"Drude-2019 Helix","type":"nominal"}}},
{"data":{"values":[{"lab":"A"}]},"mark":{"type":"text","fontSize":21,"font":"Open Sans","align":"left","baseline":"alphabetic","color":"#000"},"encoding":{"x":{"datum":20,"type":"quantitative","title":"Time (ns)","axis":{"values":[0,100,200,300,400,500,600,700,800,900,1000],"labelFlush":false,"labelOverlap":false,"format":"d"}},"y":{"datum":93,"type":"quantitative","title":"Percentage (%)"},"text":{"field":"lab"}}}
]},
{"width":373,"height":221,
"layer":[
{"data":{"name":"md"},"transform":[{"filter":"datum.p=='B'"}],"mark":{"type":"area","color":"#6f74c8","opacity":0.33},"encoding":{"x":{"field":"t","type":"quantitative","title":"Time (ns)","scale":{"domain":[0,1000],"nice":false},"axis":{"values":[0,100,200,300,400,500,600,700,800,900,1000],"labelFlush":false,"labelOverlap":false,"format":"d"}},"y":{"field":"cl","type":"quantitative","title":"Percentage (%)","scale":{"domain":[0,100],"nice":false},"axis":{"values":[0,20,40,60,80,100]}},"y2":{"field":"ch"}}},
{"data":{"name":"md"},"transform":[{"filter":"datum.p=='B'"}],"mark":{"type":"area","color":"#d65c5c","opacity":0.32},"encoding":{"x":{"field":"t","type":"quantitative","title":"Time (ns)","axis":{"values":[0,100,200,300,400,500,600,700,800,900,1000],"labelFlush":false,"labelOverlap":false,"format":"d"}},"y":{"field":"sl","type":"quantitative","title":"Percentage (%)"},"y2":{"field":"sh"}}},
{"data":{"name":"hx"},"transform":[{"filter":"datum.p=='B'"}],"mark":{"type":"area","color":"#8c8c8c","opacity":0.5},"encoding":{"x":{"field":"t","type":"quantitative","title":"Time (ns)","axis":{"values":[0,100,200,300,400,500,600,700,800,900,1000],"labelFlush":false,"labelOverlap":false,"format":"d"}},"y":{"field":"hh","type":"quantitative","title":"Percentage (%)"},"y2":{"datum":0}}},
{"data":{"values":[{"v":51}]},"mark":{"type":"rule","strokeWidth":1},"encoding":{"y":{"field":"v","type":"quantitative","title":"Percentage (%)"},"color":{"datum":"GROMOS96 53A6 Coil","type":"nominal"},"strokeDash":{"datum":"GROMOS96 53A6 Coil","type":"nominal"}}},
{"data":{"values":[{"v":49}]},"mark":{"type":"rule","strokeWidth":1},"encoding":{"y":{"field":"v","type":"quantitative","title":"Percentage (%)"},"color":{"datum":"GROMOS96 53A6 β-Strand","type":"nominal"},"strokeDash":{"datum":"GROMOS96 53A6 β-Strand","type":"nominal"}}},
{"data":{"name":"md"},"transform":[{"filter":"datum.p=='B'"}],"mark":{"type":"line","strokeWidth":2.5},"encoding":{"x":{"field":"t","type":"quantitative","title":"Time (ns)","axis":{"values":[0,100,200,300,400,500,600,700,800,900,1000],"labelFlush":false,"labelOverlap":false,"format":"d"}},"y":{"field":"c","type":"quantitative","title":"Percentage (%)"},"color":{"datum":"Drude-2019 Coil","type":"nominal"},"strokeDash":{"datum":"Drude-2019 Coil","type":"nominal"}}},
{"data":{"name":"md"},"transform":[{"filter":"datum.p=='B'"}],"mark":{"type":"line","strokeWidth":2.5},"encoding":{"x":{"field":"t","type":"quantitative","title":"Time (ns)","axis":{"values":[0,100,200,300,400,500,600,700,800,900,1000],"labelFlush":false,"labelOverlap":false,"format":"d"}},"y":{"field":"s","type":"quantitative","title":"Percentage (%)"},"color":{"datum":"Drude-2019 β-Strand","type":"nominal"},"strokeDash":{"datum":"Drude-2019 β-Strand","type":"nominal"}}},
{"data":{"name":"hx"},"transform":[{"filter":"datum.p=='B'"}],"mark":{"type":"line","strokeWidth":1.5},"encoding":{"x":{"field":"t","type":"quantitative","title":"Time (ns)","axis":{"values":[0,100,200,300,400,500,600,700,800,900,1000],"labelFlush":false,"labelOverlap":false,"format":"d"}},"y":{"field":"h","type":"quantitative","title":"Percentage (%)"},"color":{"datum":"Drude-2019 Helix","type":"nominal"},"strokeDash":{"datum":"Drude-2019 Helix","type":"nominal"}}},
{"data":{"values":[{"lab":"B"}]},"mark":{"type":"text","fontSize":21,"font":"Open Sans","align":"left","baseline":"alphabetic","color":"#000"},"encoding":{"x":{"datum":20,"type":"quantitative","title":"Time (ns)","axis":{"values":[0,100,200,300,400,500,600,700,800,900,1000],"labelFlush":false,"labelOverlap":false,"format":"d"}},"y":{"datum":93,"type":"quantitative","title":"Percentage (%)"},"text":{"field":"lab"}}}
]},
{"width":373,"height":221,
"layer":[
{"data":{"name":"md"},"transform":[{"filter":"datum.p=='C'"}],"mark":{"type":"area","color":"#6f74c8","opacity":0.33},"encoding":{"x":{"field":"t","type":"quantitative","title":"Time (ns)","scale":{"domain":[0,1000],"nice":false},"axis":{"values":[0,100,200,300,400,500,600,700,800,900,1000],"labelFlush":false,"labelOverlap":false,"format":"d"}},"y":{"field":"cl","type":"quantitative","title":"Percentage (%)","scale":{"domain":[0,100],"nice":false},"axis":{"values":[0,20,40,60,80,100]}},"y2":{"field":"ch"}}},
{"data":{"name":"md"},"transform":[{"filter":"datum.p=='C'"}],"mark":{"type":"area","color":"#d65c5c","opacity":0.32},"encoding":{"x":{"field":"t","type":"quantitative","title":"Time (ns)","axis":{"values":[0,100,200,300,400,500,600,700,800,900,1000],"labelFlush":false,"labelOverlap":false,"format":"d"}},"y":{"field":"sl","type":"quantitative","title":"Percentage (%)"},"y2":{"field":"sh"}}},
{"data":{"name":"hx"},"transform":[{"filter":"datum.p=='C'"}],"mark":{"type":"area","color":"#8c8c8c","opacity":0.5},"encoding":{"x":{"field":"t","type":"quantitative","title":"Time (ns)","axis":{"values":[0,100,200,300,400,500,600,700,800,900,1000],"labelFlush":false,"labelOverlap":false,"format":"d"}},"y":{"field":"hh","type":"quantitative","title":"Percentage (%)"},"y2":{"datum":0}}},
{"data":{"values":[{"v":55}]},"mark":{"type":"rule","strokeWidth":1},"encoding":{"y":{"field":"v","type":"quantitative","title":"Percentage (%)"},"color":{"datum":"GROMOS96 53A6 Coil","type":"nominal"},"strokeDash":{"datum":"GROMOS96 53A6 Coil","type":"nominal"}}},
{"data":{"values":[{"v":45}]},"mark":{"type":"rule","strokeWidth":1},"encoding":{"y":{"field":"v","type":"quantitative","title":"Percentage (%)"},"color":{"datum":"GROMOS96 53A6 β-Strand","type":"nominal"},"strokeDash":{"datum":"GROMOS96 53A6 β-Strand","type":"nominal"}}},
{"data":{"name":"md"},"transform":[{"filter":"datum.p=='C'"}],"mark":{"type":"line","strokeWidth":2.5},"encoding":{"x":{"field":"t","type":"quantitative","title":"Time (ns)","axis":{"values":[0,100,200,300,400,500,600,700,800,900,1000],"labelFlush":false,"labelOverlap":false,"format":"d"}},"y":{"field":"c","type":"quantitative","title":"Percentage (%)"},"color":{"datum":"Drude-2019 Coil","type":"nominal"},"strokeDash":{"datum":"Drude-2019 Coil","type":"nominal"}}},
{"data":{"name":"md"},"transform":[{"filter":"datum.p=='C'"}],"mark":{"type":"line","strokeWidth":2.5},"encoding":{"x":{"field":"t","type":"quantitative","title":"Time (ns)","axis":{"values":[0,100,200,300,400,500,600,700,800,900,1000],"labelFlush":false,"labelOverlap":false,"format":"d"}},"y":{"field":"s","type":"quantitative","title":"Percentage (%)"},"color":{"datum":"Drude-2019 β-Strand","type":"nominal"},"strokeDash":{"datum":"Drude-2019 β-Strand","type":"nominal"}}},
{"data":{"name":"hx"},"transform":[{"filter":"datum.p=='C'"}],"mark":{"type":"line","strokeWidth":1.5},"encoding":{"x":{"field":"t","type":"quantitative","title":"Time (ns)","axis":{"values":[0,100,200,300,400,500,600,700,800,900,1000],"labelFlush":false,"labelOverlap":false,"format":"d"}},"y":{"field":"h","type":"quantitative","title":"Percentage (%)"},"color":{"datum":"Drude-2019 Helix","type":"nominal"},"strokeDash":{"datum":"Drude-2019 Helix","type":"nominal"}}},
{"data":{"values":[{"lab":"C"}]},"mark":{"type":"text","fontSize":21,"font":"Open Sans","align":"left","baseline":"alphabetic","color":"#000"},"encoding":{"x":{"datum":20,"type":"quantitative","title":"Time (ns)","axis":{"values":[0,100,200,300,400,500,600,700,800,900,1000],"labelFlush":false,"labelOverlap":false,"format":"d"}},"y":{"datum":93,"type":"quantitative","title":"Percentage (%)"},"text":{"field":"lab"}}}
]}
],
"config":{
"view":{"stroke":null},
"axis":{"grid":false,"domainColor":"#000","tickColor":"#000","tickSize":3,"labelFont":"DejaVu Sans","labelFontSize":11.5,"labelColor":"#222","titleFont":"DejaVu Sans","titleFontSize":14,"titleFontWeight":"normal","titleColor":"#222"},
"axisX":{"labelPadding":1,"titlePadding":2,"labelOverlap":false},
"axisY":{"labelPadding":2,"titlePadding":5},
"legend":{"symbolType":"stroke","symbolSize":1300,"symbolStrokeWidth":2,"labelFont":"Lato","labelFontSize":17,"labelColor":"#222","labelOffset":14,"rowPadding":6,"padding":16,"fillColor":"#ffffff","strokeColor":"#cccccc","cornerRadius":14,"symbolOffset":5,"labelLimit":400}
}
}
